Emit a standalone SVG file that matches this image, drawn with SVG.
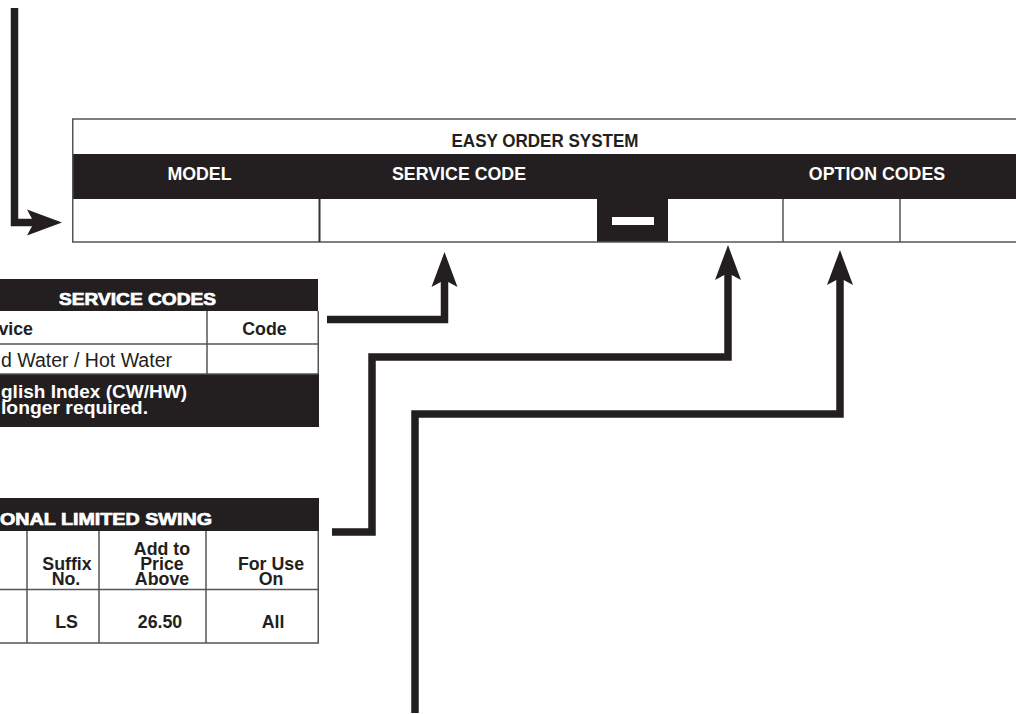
<svg xmlns="http://www.w3.org/2000/svg" width="1016" height="714" viewBox="0 0 1016 714">
<style>
.dark{fill:#231f20}
.ln{stroke:#555;stroke-width:1.5;fill:none}
.t{font-family:"Liberation Sans",Arial,sans-serif;font-weight:bold;font-size:17.8px;fill:#231f20}
.w{fill:#fff}
.hv{font-family:"Liberation Sans",Arial,sans-serif;font-weight:bold;font-size:16.5px;fill:#fff;stroke:#fff;stroke-width:0.7}
.reg{font-family:"Liberation Sans",Arial,sans-serif;font-size:19.5px;fill:#231f20}
.mid{text-anchor:middle}
.end{text-anchor:end}
.conn{fill:none;stroke:#231f20;stroke-width:7.5;stroke-linejoin:miter;stroke-linecap:butt}
</style>
<defs>
<marker id="ah" markerUnits="userSpaceOnUse" orient="auto" viewBox="-8 -14 37 28" markerWidth="37" markerHeight="28" refX="0" refY="0">
<path d="M28,0 L-7,-13 L0,0 L-7,13 Z" fill="#231f20"/>
</marker>
</defs>
<rect width="1016" height="714" fill="#fff"/>

<g id="easy-order-table">
<rect x="72" y="119" width="950" height="123" fill="#fff"/>
<rect class="dark" x="72" y="154" width="950" height="45"/>
<rect class="dark" x="597" y="199" width="71" height="43"/>
<rect class="w" x="612" y="217" width="42" height="8"/>
<path class="ln" d="M72,119 H1016 M72.75,119 V242 M72,242 H1016 M783,199 V242 M900,199 V242"/>
<path d="M319.5,199 V242" stroke="#333" stroke-width="2"/>
<text class="t mid" x="545" y="147" font-size="18" textLength="187" lengthAdjust="spacingAndGlyphs">EASY ORDER SYSTEM</text>
<text class="t w mid" x="199.5" y="180" font-size="18.6">MODEL</text>
<text class="t w" x="392" y="180" font-size="18.2">SERVICE CODE</text>
<text class="t w mid" x="877" y="180" font-size="18.3">OPTION CODES</text>
</g>

<g id="service-codes-table">
<rect class="dark" x="-2" y="279" width="320" height="32"/>
<rect class="dark" x="-2" y="374" width="321" height="53"/>
<path class="ln" d="M0,344 H318 M0,374 H318 M318.25,311 V374 M207,311 V374"/>
<text class="hv mid" x="137.5" y="305" textLength="157" lengthAdjust="spacingAndGlyphs">SERVICE CODES</text>
<text class="t end" x="33" y="335" font-size="19.5">vice</text>
<text class="t mid" x="264.5" y="335" font-size="20">Code</text>
<text class="reg" x="1" y="367" textLength="171" lengthAdjust="spacingAndGlyphs">d Water / Hot Water</text>
<text class="t w" font-size="18.5"><tspan x="1" y="398" textLength="186" lengthAdjust="spacingAndGlyphs">glish Index (CW/HW)</tspan><tspan x="1" y="414" textLength="147" lengthAdjust="spacingAndGlyphs">longer required.</tspan></text>
</g>

<g id="limited-swing-table">
<rect class="dark" x="-2" y="498" width="321" height="33"/>
<path class="ln" d="M0,589.5 H318 M0,643 H319 M318.25,531 V643 M27,531 V643 M99,531 V643 M206,531 V643"/>
<text class="hv" x="212" y="525" text-anchor="end" font-size="17.5" textLength="212" lengthAdjust="spacingAndGlyphs">ONAL LIMITED SWING</text>
<text class="t mid"><tspan x="67" y="570">Suffix</tspan><tspan x="66" y="585">No.</tspan></text>
<text class="t mid"><tspan x="162" y="555">Add to</tspan><tspan x="162" y="570">Price</tspan><tspan x="162" y="585">Above</tspan></text>
<text class="t mid"><tspan x="271" y="570">For Use</tspan><tspan x="271" y="585">On</tspan></text>
<text class="t mid" x="66.5" y="628">LS</text>
<text class="t mid" x="160" y="628">26.50</text>
<text class="t mid" x="273" y="628">All</text>
</g>

<g id="connectors">
<path class="conn" d="M14.5,8 V222.5 H34" marker-end="url(#ah)"/>
<path class="conn" d="M327,319.5 H444.5 V280" marker-end="url(#ah)"/>
<path class="conn" d="M332,532 H372 V357 H728 V273" marker-end="url(#ah)"/>
<path class="conn" d="M415,713 V414 H840 V278" marker-end="url(#ah)"/>
</g>
</svg>
